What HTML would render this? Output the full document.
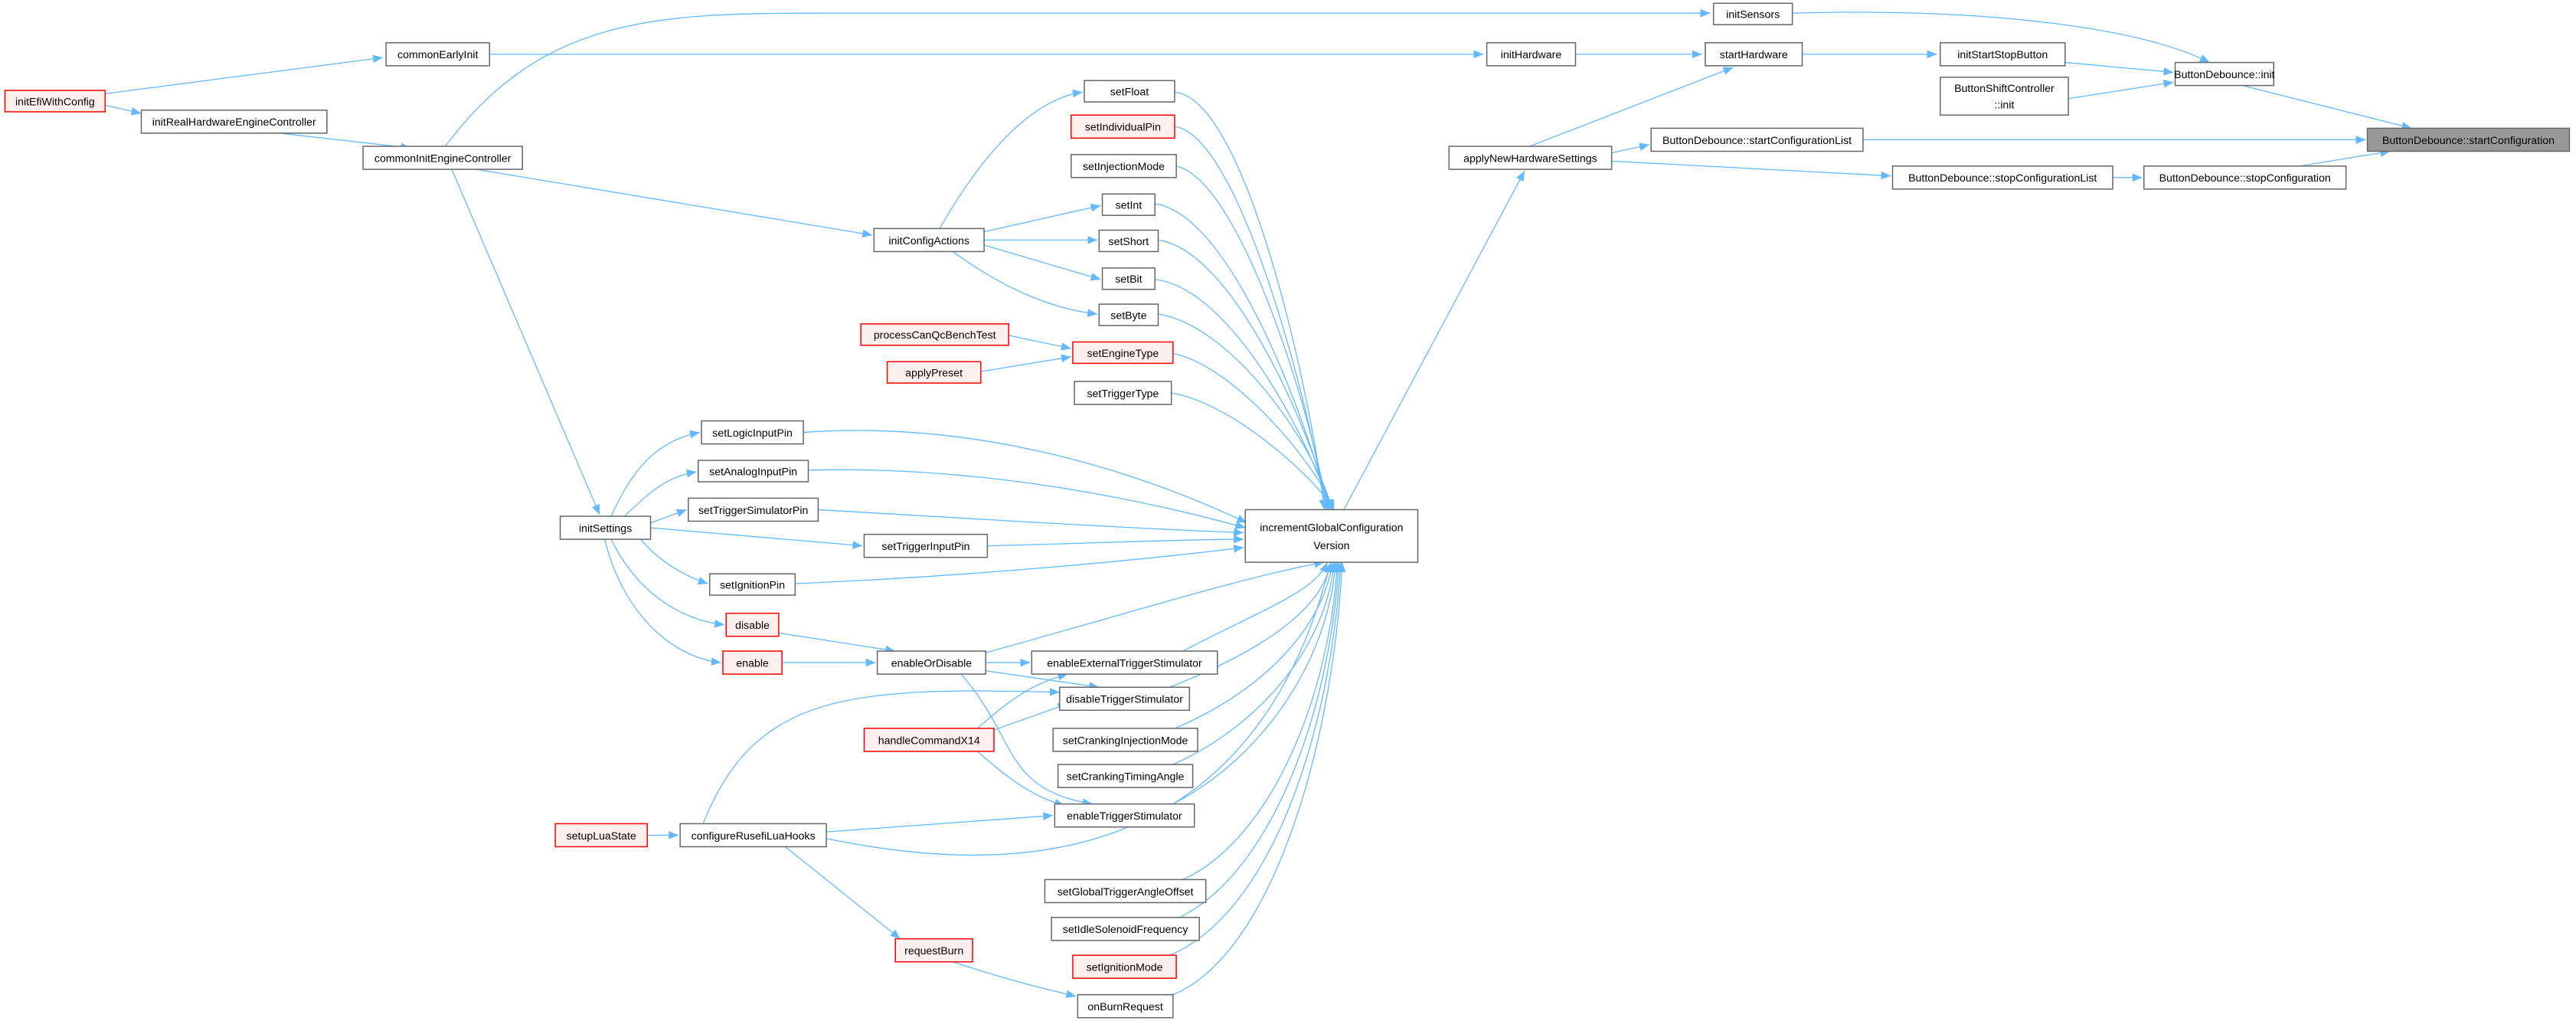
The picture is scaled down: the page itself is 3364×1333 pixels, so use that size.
<!DOCTYPE html>
<html><head><meta charset="utf-8"><style>
html,body{margin:0;padding:0;background:#fff;}
svg{display:block;}
text{font-family:"Liberation Sans","DejaVu Sans",sans-serif;font-size:6.6px;fill:#000;text-anchor:middle;}
.n{fill:#fff;stroke:#666;stroke-width:0.7;}
.r{fill:#fff0f0;stroke:#f00;stroke-width:0.7;}
.m{fill:#999;stroke:#666;stroke-width:0.7;}
.e{fill:none;stroke:#63b8ff;stroke-width:0.6;marker-end:url(#a);}
</style></head><body>
<svg width="3364" height="1333" viewBox="0 0 1568 621" preserveAspectRatio="none" xmlns="http://www.w3.org/2000/svg">
<defs><marker id="a" markerUnits="userSpaceOnUse" markerWidth="6" markerHeight="5" refX="6" refY="2.5" orient="auto"><path d="M0,0 L6,2.5 L0,5 z" fill="#63b8ff"/></marker></defs>
<g>
<path class="e" d="M64,57 L233,35"/>
<path class="e" d="M64,64 L86,69"/>
<path class="e" d="M170,81 L250,90"/>
<path class="e" d="M298,33 L903,33"/>
<path class="e" d="M271,89 C330,10 400,8 500,8 L1041,8"/>
<path class="e" d="M290,103 L531,143"/>
<path class="e" d="M275,103 L365,313"/>
<path class="e" d="M959,33 L1036,33"/>
<path class="e" d="M1097,33 L1179,33"/>
<path class="e" d="M1091,8 C1200,5 1300,15 1345,38"/>
<path class="e" d="M1257,38 L1323,44"/>
<path class="e" d="M1259,60 L1323,50"/>
<path class="e" d="M1365,52 L1468,78"/>
<path class="e" d="M1134,85 L1440,85"/>
<path class="e" d="M981,93 L1004,88"/>
<path class="e" d="M981,98 L1151,107"/>
<path class="e" d="M1286,108 L1304,108"/>
<path class="e" d="M1400,101 L1455,92"/>
<path class="e" d="M931,89 L1055,41"/>
<path class="e" d="M818,310 L928,104"/>
<path class="e" d="M572,139 C600,90 630,60 659,56"/>
<path class="e" d="M599,141 L670,125"/>
<path class="e" d="M599,146 L668,146"/>
<path class="e" d="M599,149 L670,170"/>
<path class="e" d="M580,153 C610,175 640,188 668,191"/>
<path class="e" d="M614,204 L652,212"/>
<path class="e" d="M597,226 L652,217"/>
<path class="e" d="M372,314 C385,285 400,268 426,263"/>
<path class="e" d="M380,314 C395,300 405,290 424,287"/>
<path class="e" d="M396,318 L418,310"/>
<path class="e" d="M396,321 L525,332"/>
<path class="e" d="M390,328 C400,340 415,350 431,355"/>
<path class="e" d="M372,328 C390,365 420,378 441,380"/>
<path class="e" d="M368,328 C380,375 410,400 439,403"/>
<path class="e" d="M474,385 L545,396"/>
<path class="e" d="M476,403 L533,403"/>
<path class="e" d="M600,403 L627,403"/>
<path class="e" d="M600,408 L669,418"/>
<path class="e" d="M585,410 C620,450 610,480 665,489"/>
<path class="e" d="M595,443 C615,425 630,415 650,410"/>
<path class="e" d="M605,444 L650,428"/>
<path class="e" d="M595,457 C615,475 630,485 648,490"/>
<path class="e" d="M428,501 C460,420 520,418 645,421"/>
<path class="e" d="M394,508 L413,508"/>
<path class="e" d="M503,506 L641,496"/>
<path class="e" d="M503,510 C600,530 760,540 810,342"/>
<path class="e" d="M478,515 L548,571"/>
<path class="e" d="M580,585 C610,595 630,600 655,606"/>
<path class="e" d="M600,397 C680,375 760,350 806,342"/>
<path class="e" d="M489,263 C600,255 700,290 759,318"/>
<path class="e" d="M492,286 C600,283 700,305 758,321"/>
<path class="e" d="M498,310 C600,316 700,322 757,324"/>
<path class="e" d="M601,332 C680,330 720,328 757,328"/>
<path class="e" d="M484,355 C600,350 700,340 757,333"/>
<path class="e" d="M715,56 C760,60 800,250 806,310"/>
<path class="e" d="M715,77 C755,82 798,250 807,310"/>
<path class="e" d="M716,101 C755,110 798,250 808,310"/>
<path class="e" d="M703,124 C750,130 797,260 809,310"/>
<path class="e" d="M705,146 C750,152 797,260 810,310"/>
<path class="e" d="M703,170 C750,175 798,270 810,310"/>
<path class="e" d="M705,191 C750,198 800,270 811,310"/>
<path class="e" d="M714,215 C750,222 800,280 812,310"/>
<path class="e" d="M713,239 C750,245 800,290 812,310"/>
<path class="e" d="M720,396 C770,370 800,360 808,342"/>
<path class="e" d="M712,418 C770,395 805,370 810,342"/>
<path class="e" d="M715,443 C770,420 806,380 811,342"/>
<path class="e" d="M714,465 C770,440 808,390 812,342"/>
<path class="e" d="M714,489 C770,460 809,400 813,342"/>
<path class="e" d="M720,535 C775,510 810,420 814,342"/>
<path class="e" d="M718,558 C775,530 810,430 815,342"/>
<path class="e" d="M712,581 C775,555 811,440 816,342"/>
<path class="e" d="M714,605 C775,580 812,450 817,342"/>
</g>
<g>
<rect class="r" x="3" y="55" width="61" height="13"/><text x="33.5" y="64">initEfiWithConfig</text>
<rect class="n" x="235" y="26" width="63" height="14"/><text x="266.5" y="35.5">commonEarlyInit</text>
<rect class="n" x="86" y="67" width="113" height="14"/><text x="142.5" y="76.5">initRealHardwareEngineController</text>
<rect class="n" x="221" y="89" width="97" height="14"/><text x="269.5" y="98.5">commonInitEngineController</text>
<rect class="n" x="1043" y="2" width="48" height="13"/><text x="1067" y="11">initSensors</text>
<rect class="n" x="905" y="26" width="54" height="14"/><text x="932" y="35.5">initHardware</text>
<rect class="n" x="1038" y="26" width="59" height="14"/><text x="1067.5" y="35.5">startHardware</text>
<rect class="n" x="1181" y="26" width="76" height="14"/><text x="1219" y="35.5">initStartStopButton</text>
<rect class="n" x="1181" y="47" width="78" height="23"/><text x="1220" y="56">ButtonShiftController</text><text x="1220" y="66">::init</text>
<rect class="n" x="1324" y="38" width="60" height="14"/><text x="1354" y="47.5">ButtonDebounce::init</text>
<rect class="m" x="1441" y="78" width="123" height="14"/><text x="1502.5" y="87.5">ButtonDebounce::startConfiguration</text>
<rect class="n" x="1005" y="78" width="129" height="14"/><text x="1069.5" y="87.5">ButtonDebounce::startConfigurationList</text>
<rect class="n" x="882" y="89" width="99" height="14"/><text x="931.5" y="98.5">applyNewHardwareSettings</text>
<rect class="n" x="1152" y="101" width="134" height="14"/><text x="1219" y="110.5">ButtonDebounce::stopConfigurationList</text>
<rect class="n" x="1305" y="101" width="123" height="14"/><text x="1366.5" y="110.5">ButtonDebounce::stopConfiguration</text>
<rect class="n" x="660" y="49" width="55" height="13"/><text x="687.5" y="58">setFloat</text>
<rect class="r" x="652" y="70" width="63" height="14"/><text x="683.5" y="79.5">setIndividualPin</text>
<rect class="n" x="652" y="94" width="64" height="14"/><text x="684" y="103.5">setInjectionMode</text>
<rect class="n" x="671" y="118" width="32" height="13"/><text x="687" y="127">setInt</text>
<rect class="n" x="532" y="139" width="67" height="14"/><text x="565.5" y="148.5">initConfigActions</text>
<rect class="n" x="669" y="140" width="36" height="13"/><text x="687" y="149">setShort</text>
<rect class="n" x="671" y="163" width="32" height="13"/><text x="687" y="172">setBit</text>
<rect class="n" x="669" y="185" width="36" height="13"/><text x="687" y="194">setByte</text>
<rect class="r" x="524" y="197" width="90" height="13"/><text x="569" y="206">processCanQcBenchTest</text>
<rect class="r" x="653" y="208" width="61" height="13"/><text x="683.5" y="217">setEngineType</text>
<rect class="r" x="540" y="220" width="57" height="13"/><text x="568.5" y="229">applyPreset</text>
<rect class="n" x="654" y="232" width="59" height="14"/><text x="683.5" y="241.5">setTriggerType</text>
<rect class="n" x="427" y="256" width="62" height="14"/><text x="458" y="265.5">setLogicInputPin</text>
<rect class="n" x="425" y="280" width="67" height="13"/><text x="458.5" y="289">setAnalogInputPin</text>
<rect class="n" x="419" y="303" width="79" height="14"/><text x="458.5" y="312.5">setTriggerSimulatorPin</text>
<rect class="n" x="341" y="314" width="55" height="14"/><text x="368.5" y="323.5">initSettings</text>
<rect class="n" x="526" y="325" width="75" height="14"/><text x="563.5" y="334.5">setTriggerInputPin</text>
<rect class="n" x="758" y="310" width="105" height="32"/><text x="810.5" y="323">incrementGlobalConfiguration</text><text x="810.5" y="334">Version</text>
<rect class="n" x="432" y="349" width="52" height="13"/><text x="458" y="358">setIgnitionPin</text>
<rect class="r" x="442" y="373" width="32" height="14"/><text x="458" y="382.5">disable</text>
<rect class="n" x="534" y="396" width="66" height="14"/><text x="567" y="405.5">enableOrDisable</text>
<rect class="r" x="440" y="396" width="36" height="14"/><text x="458" y="405.5">enable</text>
<rect class="n" x="628" y="396" width="113" height="14"/><text x="684.5" y="405.5">enableExternalTriggerStimulator</text>
<rect class="n" x="645" y="418" width="79" height="14"/><text x="684.5" y="427.5">disableTriggerStimulator</text>
<rect class="r" x="526" y="443" width="79" height="14"/><text x="565.5" y="452.5">handleCommandX14</text>
<rect class="n" x="641" y="443" width="88" height="14"/><text x="685" y="452.5">setCrankingInjectionMode</text>
<rect class="n" x="644" y="465" width="82" height="14"/><text x="685" y="474.5">setCrankingTimingAngle</text>
<rect class="n" x="642" y="489" width="85" height="14"/><text x="684.5" y="498.5">enableTriggerStimulator</text>
<rect class="r" x="338" y="501" width="56" height="14"/><text x="366" y="510.5">setupLuaState</text>
<rect class="n" x="414" y="501" width="89" height="14"/><text x="458.5" y="510.5">configureRusefiLuaHooks</text>
<rect class="n" x="636" y="535" width="98" height="14"/><text x="685" y="544.5">setGlobalTriggerAngleOffset</text>
<rect class="n" x="640" y="558" width="90" height="14"/><text x="685" y="567.5">setIdleSolenoidFrequency</text>
<rect class="r" x="653" y="581" width="63" height="14"/><text x="684.5" y="590.5">setIgnitionMode</text>
<rect class="r" x="545" y="571" width="47" height="14"/><text x="568.5" y="580.5">requestBurn</text>
<rect class="n" x="656" y="605" width="58" height="14"/><text x="685" y="614.5">onBurnRequest</text>
</g>
</svg>
</body></html>
